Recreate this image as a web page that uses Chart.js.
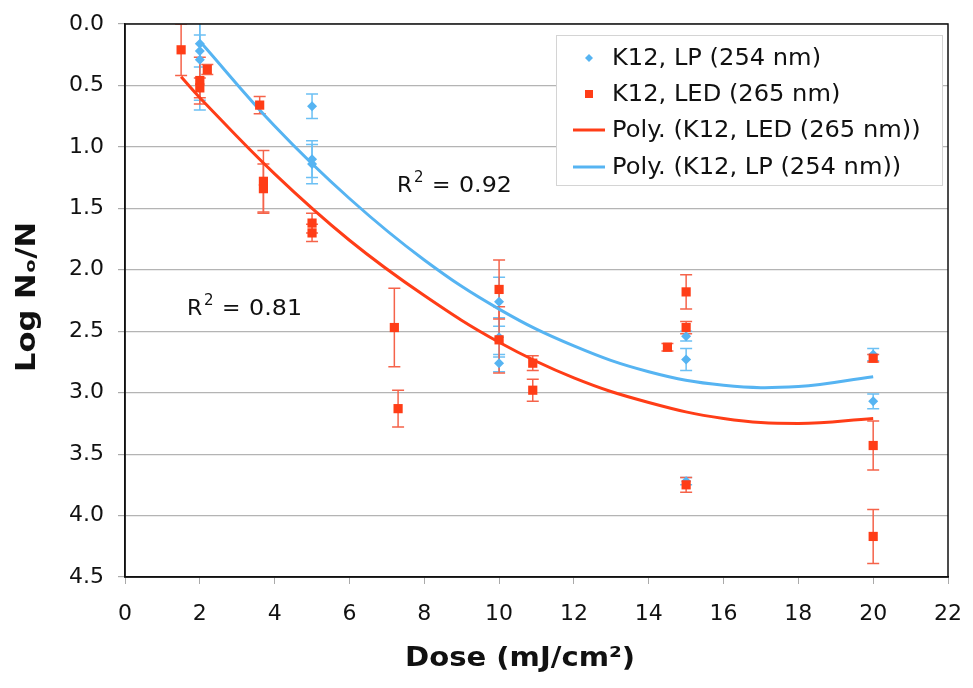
<!DOCTYPE html>
<html>
<head>
<meta charset="utf-8">
<script src="https://cdn.jsdelivr.net/npm/chart.js@4.4.0/dist/chart.umd.min.js"></script>
<style>
  html, body { margin: 0; padding: 0; background: #fff; }
  #wrap { width: 973px; height: 688px; }
</style>
</head>
<body>
<div id="wrap"><canvas id="dose"></canvas></div>
<script>
// K12, LP (254 nm) measurements
var lpDose = [2, 2, 2, 5, 5, 5, 10, 10, 10, 15, 15, 15, 20, 20];
var lpLog  = [0.16, 0.22, 0.29, 0.67, 1.10, 1.14, 2.26, 2.55, 2.76, 2.54, 2.73, 3.72, 2.69, 3.07];
var lpErr  = [0.46, 0.13, 0.41, 0.10, 0.15, 0.16, 0.20, 0.16, 0.07, 0.04, 0.09, 0.03, 0.05, 0.06];

// K12, LED (265 nm) measurements
var ledDose = [1.5, 2, 2, 2.2, 3.6, 3.7, 3.7, 5, 5, 7.2, 7.3, 10, 10, 10.9, 10.9, 14.5, 15, 15, 15, 20, 20, 20];
var ledLog  = [0.21, 0.46, 0.52, 0.37, 0.66, 1.28, 1.34, 1.62, 1.70, 2.47, 3.13, 2.16, 2.57, 2.76, 2.98, 2.63, 2.18, 2.47, 3.75, 2.72, 3.43, 4.17];
var ledErr  = [0.21, 0.19, 0.08, 0.04, 0.07, 0.25, 0.20, 0.08, 0.07, 0.32, 0.15, 0.24, 0.27, 0.06, 0.09, 0.03, 0.14, 0.05, 0.06, 0.03, 0.20, 0.22];

// polynomial trendlines
var ledFitDose = [1.5, 2, 4, 6, 8, 10, 12, 14, 16, 18, 20];
var ledFitLog  = [0.43, 0.60, 1.22, 1.76, 2.21, 2.59, 2.88, 3.08, 3.21, 3.25, 3.21];
var lpFitDose  = [2, 4, 6, 8, 10, 12, 14, 16, 18, 20];
var lpFitLog   = [0.14, 0.83, 1.42, 1.92, 2.32, 2.62, 2.83, 2.94, 2.95, 2.87];

var seriesLabels = ['K12, LP (254 nm)', 'K12, LED (265 nm)', 'Poly. (K12, LED (265 nm))', 'Poly. (K12, LP (254 nm))'];
var rSquared = ['0.92', '0.81'];
var yTitle = 'Log N\u2092/N';
var xTitle = 'Dose (mJ/cm\u00B2)';

var RED = '#ff3d17';
var BLUE = '#56b4f2';

function pts(xs, ys, es) {
  return xs.map(function (x, i) { return { x: x, y: ys[i], err: es ? es[i] : 0 }; });
}

// error bars, drawn under the markers
var errorBars = {
  id: 'errorBars',
  beforeDatasetsDraw: function (chart) {
    var ctx = chart.ctx, xs = chart.scales.x, ys = chart.scales.y, a = chart.chartArea;
    ctx.save();
    ctx.beginPath();
    ctx.rect(a.left, a.top, a.right - a.left, a.bottom - a.top);
    ctx.clip();
    chart.data.datasets.forEach(function (ds) {
      if (!ds.errColor) return;
      ctx.strokeStyle = ds.errColor;
      ctx.lineWidth = 1.5;
      ds.data.forEach(function (p) {
        var px = xs.getPixelForValue(p.x);
        var y1 = ys.getPixelForValue(p.y - p.err);
        var y2 = ys.getPixelForValue(p.y + p.err);
        ctx.beginPath();
        ctx.moveTo(px, y1); ctx.lineTo(px, y2);
        ctx.moveTo(px - 6, y1); ctx.lineTo(px + 6, y1);
        ctx.moveTo(px - 6, y2); ctx.lineTo(px + 6, y2);
        ctx.stroke();
      });
    });
    ctx.restore();
  }
};

// text a little wider than the font gives, like the original
function wideText(ctx, s, x, y, sx) {
  ctx.save();
  ctx.translate(x, y);
  ctx.scale(sx, 1);
  ctx.fillText(s, 0, 0);
  ctx.restore();
}

function drawR2(ctx, val, x, y) {
  ctx.font = '22px "DejaVu Sans"';
  ctx.fillText('R', x, y);
  ctx.font = '15px "DejaVu Sans"';
  ctx.fillText('2', x + 17, y - 10);
  ctx.font = '22px "DejaVu Sans"';
  ctx.fillText('=', x + 35, y);
  wideText(ctx, val, x + 62, y, 1.08);
}

// frame, axis titles, R² labels and the boxed legend
var extras = {
  id: 'extras',
  afterDraw: function (chart) {
    var ctx = chart.ctx, a = chart.chartArea, xs = chart.scales.x, ys = chart.scales.y;
    ctx.save();
    ctx.strokeStyle = '#111';
    ctx.lineWidth = 1.5;
    ctx.strokeRect(a.left, a.top, a.right - a.left, a.bottom - a.top);

    // axis titles
    ctx.fillStyle = '#111';
    ctx.font = 'bold 26px "DejaVu Sans"';
    ctx.textAlign = 'center';
    ctx.textBaseline = 'middle';
    var tw = ctx.measureText(yTitle).width;
    ctx.save();
    ctx.translate(28, 297);
    ctx.rotate(-Math.PI / 2);
    ctx.scale(150 / tw, 1);
    ctx.fillText(yTitle, 0, 0);
    ctx.restore();

    ctx.font = 'bold 27px "DejaVu Sans"';
    tw = ctx.measureText(xTitle).width;
    ctx.save();
    ctx.translate(520, 659);
    ctx.scale(230 / tw, 1);
    ctx.fillText(xTitle, 0, 0);
    ctx.restore();
    ctx.textAlign = 'left';

    ctx.textBaseline = 'alphabetic';
    drawR2(ctx, rSquared[0], xs.getPixelForValue(7.27), ys.getPixelForValue(1.37));
    drawR2(ctx, rSquared[1], xs.getPixelForValue(1.66), ys.getPixelForValue(2.37));

    // legend box
    var bx = 556, by = 35, bw = 386, bh = 150;
    ctx.fillStyle = '#fff';
    ctx.fillRect(bx, by, bw, bh);
    ctx.strokeStyle = '#d4d4d4';
    ctx.lineWidth = 1;
    ctx.strokeRect(bx + 0.5, by + 0.5, bw, bh);
    var rows = [58, 94, 130, 167];
    ctx.textBaseline = 'middle';
    ctx.font = '23px "DejaVu Sans"';
    chart.data.datasets.forEach(function (ds, r) {
      var y = rows[r];
      ctx.fillStyle = ds.borderColor;
      ctx.strokeStyle = ds.borderColor;
      if (ds.showLine) {
        ctx.lineWidth = 3;
        ctx.beginPath(); ctx.moveTo(573, y); ctx.lineTo(605, y); ctx.stroke();
      } else if (ds.pointStyle === 'rect') {
        ctx.fillRect(585, y - 4, 8, 8);
      } else {
        ctx.beginPath();
        ctx.moveTo(589, y - 4); ctx.lineTo(593, y); ctx.lineTo(589, y + 4); ctx.lineTo(585, y);
        ctx.closePath(); ctx.fill();
      }
      ctx.fillStyle = '#111';
      wideText(ctx, ds.label, 612, y + 1, 1.05);
    });
    ctx.restore();
  }
};

var ctx = document.getElementById('dose').getContext('2d');
var chart = new Chart(ctx, {
  type: 'scatter',
  data: {
    datasets: [
      {
        label: seriesLabels[0],
        data: pts(lpDose, lpLog, lpErr),
        pointStyle: 'rectRot',
        pointRadius: 5,
        backgroundColor: BLUE,
        borderColor: BLUE,
        borderWidth: 0,
        errColor: '#6cc0f4',
        order: 1
      },
      {
        label: seriesLabels[1],
        data: pts(ledDose, ledLog, ledErr),
        pointStyle: 'rect',
        pointRadius: 6.5,
        backgroundColor: RED,
        borderColor: RED,
        borderWidth: 0,
        errColor: '#f5634a',
        order: 0
      },
      {
        label: seriesLabels[2],
        data: pts(ledFitDose, ledFitLog),
        showLine: true,
        pointRadius: 0,
        borderColor: RED,
        borderWidth: 3,
        tension: 0.4,
        order: 2
      },
      {
        label: seriesLabels[3],
        data: pts(lpFitDose, lpFitLog),
        showLine: true,
        pointRadius: 0,
        borderColor: BLUE,
        borderWidth: 3,
        tension: 0.4,
        order: 3
      }
    ]
  },
  options: {
    responsive: true,
    maintainAspectRatio: false,
    animation: false,
    layout: { padding: { top: 24, right: 25, left: 0, bottom: 0 } },
    plugins: {
      legend: { display: false },
      tooltip: { enabled: false }
    },
    scales: {
      x: {
        type: 'linear',
        min: 0,
        max: 22,
        ticks: {
          stepSize: 2,
          color: '#111',
          padding: 17,
          font: { family: 'DejaVu Sans', size: 22 }
        },
        grid: { drawOnChartArea: false, drawTicks: true, tickLength: 7, color: '#aaa' },
        border: { color: '#111', width: 1.5 },
        title: { display: false },
        afterFit: function (s) { s.height = 111; s.paddingLeft = 0; s.paddingRight = 0; }
      },
      y: {
        min: 0,
        max: 4.5,
        reverse: true,
        ticks: {
          stepSize: 0.5,
          color: '#111',
          padding: 14,
          font: { family: 'DejaVu Sans', size: 22 },
          callback: function (v) { return v.toFixed(1); }
        },
        grid: { color: '#b4b4b4', lineWidth: 1.2, tickLength: 7, tickColor: '#aaa' },
        border: { color: '#111', width: 1.5 },
        title: { display: false },
        afterFit: function (s) { s.width = 125; s.paddingTop = 0; s.paddingBottom = 0; }
      }
    }
  },
  plugins: [errorBars, extras]
});
</script>
</body>
</html>
